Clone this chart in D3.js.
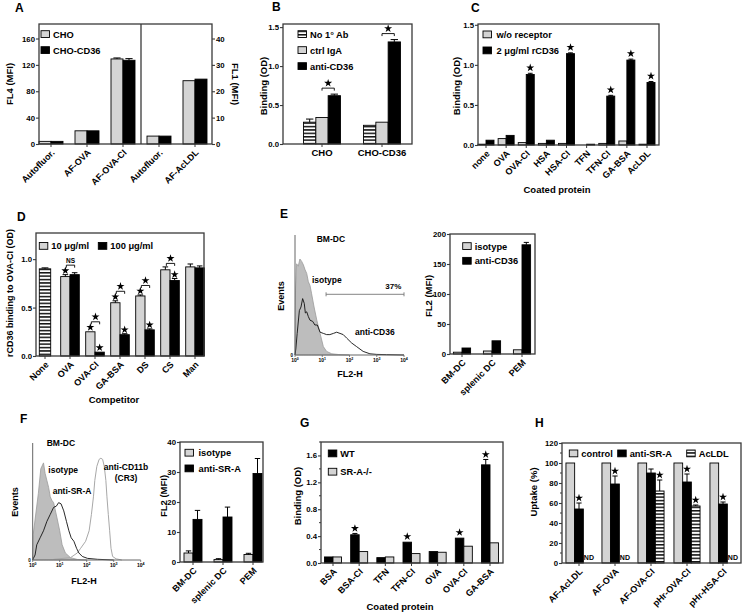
<!DOCTYPE html>
<html><head><meta charset="utf-8">
<script src="https://cdn.jsdelivr.net/npm/d3@7"></script>
<style>body{margin:0;background:#fff}svg{display:block}</style>
</head><body>
<script>
// ---------------- DATA ----------------
// Panel A
const aCats = ["Autofluor.", "AF-OVA", "AF-OVA-CI", "Autofluor.", "AF-AcLDL"];
const aAxis = ["FL4", "FL4", "FL4", "FL1", "FL1"];
const aCHO = [4, 20, 129, 3, 24];
const aCHOErr = [0.3, 0.5, 1.5, 0.2, 0.2];
const aCD36 = [4, 20, 127, 3, 24.6];
const aCD36Err = [0.3, 0.5, 2.5, 0.2, 0.2];
const aLeftTicks = [0, 40, 80, 120, 160];
const aRightTicks = [0, 10, 20, 30, 40];
// Panel B
const bCats = ["CHO", "CHO-CD36"];
const bNoAb = [0.28, 0.24], bNoAbErr = [0.04, 0.01];
const bIgA = [0.34, 0.28], bIgAErr = [0.01, 0.005];
const bCD36 = [0.62, 1.31], bCD36Err = [0.02, 0.03];
const bBracket = ["★", "★"];
const bTicks = [0, 0.5, 1.0, 1.5];
// Panel C
const cCats = ["none", "OVA", "OVA-CI", "HSA", "HSA-CI", "TFN", "TFN-CI", "GA-BSA", "AcLDL"];
const cNoRec = [0.01, 0.08, 0.03, 0.02, 0.02, 0.0, 0.02, 0.05, 0.01];
const cRec = [0.06, 0.12, 0.88, 0.06, 1.14, 0.01, 0.61, 1.06, 0.78];
const cRecErr = [0.004, 0.005, 0.015, 0.004, 0.01, 0.002, 0.01, 0.012, 0.012];
const cStar = [0, 0, 1, 0, 1, 0, 1, 1, 1];
const cTicks = [0, 0.5, 1.0, 1.5];
// Panel D
const dCats = ["None", "OVA", "OVA-CI", "GA-BSA", "DS", "CS", "Man"];
const dNone = [0.90, null, null, null, null, null, null];
const dNoneErr = [0.01, 0, 0, 0, 0, 0, 0];
const d10 = [null, 0.82, 0.25, 0.55, 0.62, 0.89, 0.92];
const d10Err = [0, 0.02, 0.005, 0.02, 0.01, 0.03, 0.03];
const d100 = [null, 0.84, 0.04, 0.22, 0.27, 0.78, 0.91];
const d100Err = [0, 0.02, 0.005, 0.01, 0.01, 0.02, 0.02];
const dStar10 = [0, 1, 1, 1, 1, 0, 0];
const dStar100 = [0, 0, 1, 1, 1, 1, 0];
const dBracket = ["", "NS", "★", "★", "★", "★", ""];
const dTicks = [0, 0.5, 1.0];
// Panel E histogram (log10 FL2-H decade, events % of scale)
const eIsoLog = [0, 0.02, 0.06, 0.12, 0.18, 0.245, 0.31, 0.37, 0.43, 0.49, 0.55, 0.61, 0.70, 0.80, 0.92, 1.04, 1.16, 1.35, 1.6, 2.0];
const eIsoCount = [0, 55, 76, 74, 80, 78, 75, 71, 68, 61, 58, 51, 40, 29, 18, 7, 3, 1, 0.4, 0];
const eCD36Log = [0, 0.03, 0.08, 0.16, 0.22, 0.28, 0.34, 0.38, 0.43, 0.49, 0.55, 0.65, 0.73, 0.82, 0.92, 1.04, 1.16, 1.28, 1.41, 1.53, 1.65, 1.77, 1.9, 2.08, 2.26, 2.5, 2.75, 3.0, 3.36, 4.0];
const eCD36Count = [0, 5, 18, 37, 40, 47, 43, 35, 36, 32, 29, 28, 25, 25, 19, 18, 17, 17, 18, 19, 18, 17, 14, 10, 7, 3, 1, 0.5, 0.3, 0];
const eGate = [1.14, 4.0];
const eGateLabel = "37%";
// Panel E bars
const eCats = ["BM-DC", "splenic DC", "PEM"];
const eIso = [3, 5, 7], eIsoErr = [0.5, 0.5, 1];
const eAnti = [10, 22, 182], eAntiErr = [1, 1, 4];
const eTicks = [0, 50, 100, 150, 200];
// Panel F histogram
const fIsoLog = [0, 0.02, 0.09, 0.21, 0.30, 0.40, 0.46, 0.525, 0.59, 0.65, 0.71, 0.775, 0.9, 1.0, 1.09, 1.21, 1.4, 1.65, 2.0];
const fIsoCount = [0, 22, 35, 57, 78, 83, 74, 68, 62, 54, 51, 49, 36, 25, 13, 6, 2, 0.5, 0];
const fSRALog = [0, 0.025, 0.0875, 0.15, 0.275, 0.4, 0.525, 0.65, 0.775, 0.875, 0.96, 1.05, 1.15, 1.25, 1.34, 1.425, 1.525, 1.625, 1.71, 1.84, 2.03, 2.4, 3.0];
const fSRACount = [0, 1.4, 4.3, 13, 19, 25, 33, 39, 45, 46, 49, 48, 42, 33, 25, 19, 16, 10, 6, 3, 1.4, 0.6, 0];
const fCD11bLog = [0.775, 1.4, 1.65, 1.775, 1.96, 2.09, 2.175, 2.25, 2.3, 2.375, 2.46, 2.525, 2.59, 2.65, 2.71, 2.75, 2.8, 2.85, 2.9, 2.96, 3.09, 3.3];
const fCD11bCount = [0.6, 2, 6, 10, 16, 25, 39, 54, 68, 80, 86, 87, 86, 80, 68, 54, 39, 25, 10, 3, 1, 0];
// Panel F bars
const fCats = ["BM-DC", "splenic DC", "PEM"];
const fIso = [3.0, 0.8, 2.5], fIsoErr = [0.7, 0.3, 0.4];
const fSRA = [14.2, 15.0, 29.5], fSRAErr = [3.0, 3.3, 5.0];
const fTicks = [0, 10, 20, 30, 40];
// Panel G
const gCats = ["BSA", "BSA-CI", "TFN", "TFN-CI", "OVA", "OVA-CI", "GA-BSA"];
const gWT = [0.09, 0.42, 0.08, 0.31, 0.17, 0.37, 1.46];
const gWTErr = [0.004, 0.02, 0.004, 0.01, 0.005, 0.01, 0.08];
const gKO = [0.09, 0.17, 0.09, 0.14, 0.16, 0.25, 0.30];
const gKOErr = [0.003, 0.005, 0.003, 0.004, 0.005, 0.006, 0.006];
const gStar = [0, 1, 0, 1, 0, 1, 1];
const gTicks = [0, 0.4, 0.8, 1.2, 1.6];
// Panel H
const hCats = ["AF-AcLDL", "AF-OVA", "AF-OVA-CI", "pHr-OVA-CI", "pHr-HSA-CI"];
const hCtrl = [100, 100, 100, 100, 100];
const hSRA = [54, 79, 90, 81, 59], hSRAErr = [6, 8, 4, 8, 2];
const hAc = [null, null, 72, 57, null], hAcErr = [0, 0, 11, 1, 0];
const hStarSRA = [1, 1, 0, 1, 1];
const hStarAc = [0, 0, 1, 1, 0];
const hTicks = [0, 20, 40, 60, 80, 100, 120];

// ---------------- DRAWING ----------------
const FONT = '"Liberation Sans", Arial, Helvetica, sans-serif';
const TICKF = 7.8, LEGF = 9.3, TITLEF = 9.5, CATF = 9;
const svg = d3.select("body").append("svg").attr("width", 742).attr("height", 615)
  .attr("font-family", FONT).attr("font-weight", "bold");
const defs = svg.append("defs");
const pat = defs.append("pattern").attr("id", "hstripe").attr("patternUnits", "userSpaceOnUse")
  .attr("width", 8).attr("height", 3.4);
pat.append("rect").attr("width", 8).attr("height", 3.4).attr("fill", "#fff");
pat.append("rect").attr("width", 8).attr("height", 1.5).attr("fill", "#111");
const FILLS = {gray: "#d4d4d4", black: "#000", stripe: "url(#hstripe)"};
const AX = "#3a3a3a";

function label(x, y, s, size, anchor = "start", rot = 0) {
  const t = svg.append("text").attr("x", x).attr("y", y).attr("font-size", size)
    .attr("text-anchor", anchor).text(s);
  if (rot) t.attr("transform", `rotate(${rot},${x},${y})`);
  return t;
}
function frame(b) {
  svg.append("rect").attr("x", b.x0).attr("y", b.y0).attr("width", b.x1 - b.x0)
    .attr("height", b.y1 - b.y0).attr("fill", "none").attr("stroke", AX).attr("stroke-width", 1.3);
}
function yAxis(x, y, ticks, fmt, side = "left", minor = null) {
  const ax = side === "left" ? d3.axisLeft(y) : d3.axisRight(y);
  const g = svg.append("g").attr("transform", `translate(${x},0)`)
    .call(ax.tickValues(ticks).tickFormat(fmt).tickSize(3).tickPadding(1));
  g.attr("font-family", FONT).attr("font-size", TICKF).attr("font-weight", "bold");
  g.select(".domain").remove();
  g.selectAll("line").attr("stroke", AX).attr("stroke-width", 1.1);
  if (minor) {
    const s = side === "left" ? -1 : 1;
    svg.append("g").selectAll("line").data(minor).join("line")
      .attr("x1", x).attr("x2", x + s * 2).attr("y1", d => y(d)).attr("y2", d => y(d))
      .attr("stroke", AX).attr("stroke-width", 1);
  }
}
function xCats(xs, labels, y1, size = CATF) {
  xs.forEach((cx, i) => {
    svg.append("line").attr("x1", cx).attr("x2", cx).attr("y1", y1).attr("y2", y1 + 3)
      .attr("stroke", AX).attr("stroke-width", 1);
    svg.append("text").attr("transform", `translate(${cx + 2},${y1 + 7}) rotate(-45)`)
      .attr("text-anchor", "end").attr("dy", "0.35em").attr("font-size", size).text(labels[i]);
  });
}
function drawBars(series, xc, yOf, bw, n) {
  const tops = series.map(() => []);
  series.forEach((s, si) => {
    s.values.forEach((v, i) => {
      if (v == null) { tops[si][i] = null; return; }
      const y = yOf(i);
      const left = xc(i) + (si - n / 2) * bw;
      const e = (s.errors && s.errors[i]) || 0;
      svg.append("rect").attr("x", left).attr("y", y(v)).attr("width", bw)
        .attr("height", Math.max(0, y(0) - y(v))).attr("fill", FILLS[s.fill])
        .attr("stroke", "#000").attr("stroke-width", 0.9);
      const cx = left + bw / 2;
      if (e > 0 && (y(v) - y(v + e)) > 0.8) {
        svg.append("line").attr("x1", cx).attr("x2", cx).attr("y1", y(v)).attr("y2", y(v + e))
          .attr("stroke", "#000").attr("stroke-width", 1);
        svg.append("line").attr("x1", cx - bw * 0.3).attr("x2", cx + bw * 0.3)
          .attr("y1", y(v + e)).attr("y2", y(v + e)).attr("stroke", "#000").attr("stroke-width", 1);
      }
      tops[si][i] = {x: cx, y: y(v + e)};
    });
  });
  return tops;
}
function legend(items, boxW = 8.5, boxH = 6.8, size = LEGF) {
  items.forEach(it => {
    svg.append("rect").attr("x", it.x).attr("y", it.y).attr("width", boxW).attr("height", boxH)
      .attr("fill", FILLS[it.fill]).attr("stroke", "#000").attr("stroke-width", 0.9);
    label(it.x + boxW + (it.gap || 3.5), it.y + boxH, it.text, size);
  });
}
const starPath = d3.symbol(d3.symbolStar, 20)();
function star(x, y) {
  svg.append("path").attr("d", starPath).attr("transform", `translate(${x},${y})`).attr("fill", "#000");
}
function bracket(xa, xb, y, lab) {
  svg.append("path").attr("d", `M${xa},${y + 2.5}V${y}H${xb}V${y + 2.5}`)
    .attr("fill", "none").attr("stroke", "#000").attr("stroke-width", 0.9);
  if (lab === "★") star((xa + xb) / 2, y - 5);
  else if (lab) label((xa + xb) / 2, y - 2, lab, 6.5, "middle");
}
function histo(b, series) {
  const x = d3.scaleLinear().domain([0, 4]).range([b.x0, b.x1]);
  const y = d3.scaleLinear().domain([0, 100]).range([b.y1, b.y0]);
  series.forEach(s => {
    const pts = s.log.map((l, i) => [x(l), y(s.count[i])]);
    if (s.fill) {
      svg.append("path").attr("d", d3.area().x(d => d[0]).y0(b.y1).y1(d => d[1])(pts))
        .attr("fill", s.fill).attr("stroke", s.stroke).attr("stroke-width", 0.8);
    } else {
      svg.append("path").attr("d", d3.line()(pts)).attr("fill", "none")
        .attr("stroke", s.stroke).attr("stroke-width", s.w || 1);
    }
  });
  svg.append("path").attr("d", `M${b.x0},${b.y0}V${b.y1}H${b.x1}`).attr("fill", "none")
    .attr("stroke", "#666").attr("stroke-width", 1);
  d3.range(5).forEach(k => {
    svg.append("line").attr("x1", x(k)).attr("x2", x(k)).attr("y1", b.y1).attr("y2", b.y1 + 2)
      .attr("stroke", "#666").attr("stroke-width", 0.8);
    const t = svg.append("text").attr("x", x(k)).attr("y", b.y1 + 6.5).attr("font-size", 5)
      .attr("text-anchor", "middle");
    t.append("tspan").text("10");
    t.append("tspan").attr("font-size", 3.6).attr("dy", -1.8).text(k);
  });
  label(b.x0 - 2, b.y1 + 1.5, "0", 4.5, "end");
  return {x, y};
}
function letter(x, y, s) { label(x, y, s, 12); }

// ---------- Panel A ----------
{
  const b = {x0: 39, x1: 212, y0: 24, y1: 144};
  const x = d3.scalePoint().domain(d3.range(aCats.length)).range([51, 195]);
  const yL = d3.scaleLinear().domain([0, 182]).range([b.y1, b.y0]);
  const yR = d3.scaleLinear().domain([0, 45.5]).range([b.y1, b.y0]);
  const yOf = i => aAxis[i] === "FL4" ? yL : yR;
  drawBars([{values: aCHO, errors: aCHOErr, fill: "gray"}, {values: aCD36, errors: aCD36Err, fill: "black"}],
    x, yOf, 12, 2);
  const div = (x(2) + x(3)) / 2;
  svg.append("line").attr("x1", div).attr("x2", div).attr("y1", b.y0).attr("y2", b.y1)
    .attr("stroke", AX).attr("stroke-width", 1.3);
  frame(b);
  yAxis(b.x0, yL, aLeftTicks, d3.format("d"));
  yAxis(b.x1, yR, aRightTicks, d3.format("d"), "right");
  xCats(aCats.map((c, i) => x(i)), aCats, b.y1);
  legend([{x: 41, y: 30.7, fill: "gray", text: "CHO"}, {x: 41, y: 46.7, fill: "black", text: "CHO-CD36"}]);
  label(13, 84, "FL4 (MFI)", TITLEF, "middle", -90);
  label(231.5, 84, "FL1 (MFI)", TITLEF, "middle", 90);
  letter(15, 12, "A");
}
// ---------- Panel B ----------
{
  const b = {x0: 283, x1: 412, y0: 24, y1: 144};
  const x = d3.scalePoint().domain(d3.range(bCats.length)).range([322, 382]);
  const y = d3.scaleLinear().domain([0, 1.54]).range([b.y1, b.y0]);
  const tops = drawBars([
    {values: bNoAb, errors: bNoAbErr, fill: "stripe"},
    {values: bIgA, errors: bIgAErr, fill: "gray"},
    {values: bCD36, errors: bCD36Err, fill: "black"}], x, () => y, 12.3, 3);
  bCats.forEach((c, i) => {
    const by = tops[2][i].y - 6;
    bracket(tops[1][i].x, tops[2][i].x, by, bBracket[i]);
  });
  frame(b);
  yAxis(b.x0, y, bTicks, d3.format(".1f"));
  bCats.forEach((c, i) => {
    svg.append("line").attr("x1", x(i)).attr("x2", x(i)).attr("y1", b.y1).attr("y2", b.y1 + 3).attr("stroke", AX);
    label(x(i), b.y1 + 12, c, 9.5, "middle");
  });
  legend([{x: 298, y: 30.7, fill: "stripe", text: "No 1° Ab"},
          {x: 298, y: 46.7, fill: "gray", text: "ctrl IgA"},
          {x: 298, y: 62.7, fill: "black", text: "anti-CD36"}]);
  label(267, 86, "Binding (OD)", TITLEF, "middle", -90);
  letter(272, 11, "B");
}
// ---------- Panel C ----------
{
  const b = {x0: 478, x1: 659, y0: 24, y1: 145};
  const x = d3.scalePoint().domain(d3.range(cCats.length)).range([486, 647]);
  const y = d3.scaleLinear().domain([0, 1.51]).range([b.y1, b.y0]);
  const tops = drawBars([{values: cNoRec, fill: "gray"}, {values: cRec, errors: cRecErr, fill: "black"}],
    x, () => y, 8, 2);
  cStar.forEach((s, i) => { if (s) star(tops[1][i].x, tops[1][i].y - 5.5); });
  frame(b);
  yAxis(b.x0, y, cTicks, d3.format(".1f"));
  xCats(cCats.map((c, i) => x(i)), cCats, b.y1);
  legend([{x: 483, y: 31, fill: "gray", text: "w/o receptor", gap: 5},
          {x: 483, y: 47, fill: "black", text: "2 μg/ml rCD36", gap: 5}]);
  label(460, 86, "Binding (OD)", TITLEF, "middle", -90);
  label(557, 193, "Coated protein", TITLEF, "middle");
  letter(471, 12, "C");
}
// ---------- Panel D ----------
{
  const b = {x0: 36, x1: 204, y0: 233, y1: 356};
  const x = d3.scalePoint().domain(d3.range(dCats.length)).range([45, 195]);
  const y = d3.scaleLinear().domain([0, 1.27]).range([b.y1, b.y0]);
  drawBars([{values: dNone, errors: dNoneErr, fill: "stripe"}], x, () => y, 11.4, 1);
  const tops = drawBars([{values: d10, errors: d10Err, fill: "gray"}, {values: d100, errors: d100Err, fill: "black"}],
    x, () => y, 9.3, 2);
  dCats.forEach((c, i) => {
    if (dStar10[i]) star(tops[0][i].x, tops[0][i].y - 4);
    if (dStar100[i]) star(tops[1][i].x, tops[1][i].y - 4);
    if (dBracket[i]) {
      const by = tops[0][i].y - (dStar10[i] ? 9.5 : 3.5);
      bracket(tops[0][i].x + 1, tops[1][i].x, by, dBracket[i]);
    }
  });
  frame(b);
  yAxis(b.x0, y, dTicks, d3.format(".1f"));
  xCats(dCats.map((c, i) => x(i)), dCats, b.y1);
  legend([{x: 39.3, y: 242.5, fill: "gray", text: "10 μg/ml"},
          {x: 98.3, y: 242.5, fill: "black", text: "100 μg/ml"}]);
  label(13, 293, "rCD36 binding to OVA-CI (OD)", 9, "middle", -90);
  label(114, 403, "Competitor", TITLEF, "middle");
  letter(17, 221, "D");
}
// ---------- Panel E ----------
{
  const b = {x0: 295, x1: 404, y0: 235, y1: 355};
  const h = histo(b, [
    {log: eIsoLog, count: eIsoCount, fill: "#bdbdbd", stroke: "#9a9a9a"},
    {log: eCD36Log, count: eCD36Count, stroke: "#111", w: 0.9}]);
  const gy = 294.3;
  svg.append("path").attr("d", `M${h.x(eGate[0])},${gy - 2}V${gy + 2}M${h.x(eGate[0])},${gy}H${h.x(eGate[1])}M${h.x(eGate[1])},${gy - 2}V${gy + 2}`)
    .attr("stroke", "#777").attr("stroke-width", 0.9).attr("fill", "none");
  label(h.x(3.9), 289, eGateLabel, 8, "end");
  label(316.7, 241.5, "BM-DC", 8.5);
  label(312, 283, "isotype", 8.5);
  label(355, 334.5, "anti-CD36", 8.5);
  label(350, 376.5, "FL2-H", 9, "middle");
  label(283.5, 296, "Events", 9, "middle", -90);
  letter(280, 218, "E");

  const bb = {x0: 450, x1: 535, y0: 234, y1: 354};
  const x = d3.scalePoint().domain(d3.range(eCats.length)).range([462, 522]);
  const y = d3.scaleLinear().domain([0, 200]).range([bb.y1, bb.y0]);
  drawBars([{values: eIso, errors: eIsoErr, fill: "gray"}, {values: eAnti, errors: eAntiErr, fill: "black"}],
    x, () => y, 8.6, 2);
  frame(bb);
  yAxis(bb.x0, y, eTicks, d3.format("d"));
  xCats(eCats.map((c, i) => x(i)), eCats, bb.y1);
  legend([{x: 462.7, y: 242.7, fill: "gray", text: "isotype"},
          {x: 462.7, y: 257.4, fill: "black", text: "anti-CD36"}]);
  label(432, 296, "FL2 (MFI)", TITLEF, "middle", -90);
}
// ---------- Panel F ----------
{
  const b = {x0: 32.7, x1: 140.7, y0: 443, y1: 560};
  histo(b, [
    {log: fIsoLog, count: fIsoCount, fill: "#bdbdbd", stroke: "#9a9a9a"},
    {log: fCD11bLog, count: fCD11bCount, stroke: "#a8a8a8", w: 1},
    {log: fSRALog, count: fSRACount, stroke: "#111", w: 0.9}]);
  label(46.7, 445.5, "BM-DC", 8.5);
  label(48.3, 473, "isotype", 8.5);
  label(52.7, 493.5, "anti-SR-A", 8.5);
  label(126, 470, "anti-CD11b", 8.5, "middle");
  label(126, 480.5, "(CR3)", 8.5, "middle");
  label(84, 584, "FL2-H", 9, "middle");
  label(18.3, 502, "Events", 9, "middle", -90);
  letter(20, 423, "F");

  const bb = {x0: 180, x1: 263, y0: 442, y1: 562};
  const x = d3.scalePoint().domain(d3.range(fCats.length)).range([193, 253]);
  const y = d3.scaleLinear().domain([0, 40]).range([bb.y1, bb.y0]);
  drawBars([{values: fIso, errors: fIsoErr, fill: "gray"}, {values: fSRA, errors: fSRAErr, fill: "black"}],
    x, () => y, 9, 2);
  frame(bb);
  yAxis(bb.x0, y, fTicks, d3.format("d"));
  xCats(fCats.map((c, i) => x(i)), fCats, bb.y1);
  legend([{x: 185, y: 449.3, fill: "gray", text: "isotype", gap: 5},
          {x: 185, y: 465, fill: "black", text: "anti-SR-A", gap: 5}]);
  label(167, 496, "FL2 (MFI)", TITLEF, "middle", -90);
}
// ---------- Panel G ----------
{
  const b = {x0: 321, x1: 503, y0: 442, y1: 563};
  const x = d3.scalePoint().domain(d3.range(gCats.length)).range([333, 490]);
  const y = d3.scaleLinear().domain([0, 1.8]).range([b.y1, b.y0]);
  const tops = drawBars([{values: gWT, errors: gWTErr, fill: "black"}, {values: gKO, errors: gKOErr, fill: "gray"}],
    x, () => y, 8.5, 2);
  gStar.forEach((s, i) => { if (s) star(tops[0][i].x, tops[0][i].y - 5); });
  frame(b);
  yAxis(b.x0, y, gTicks, d3.format(".1f"), "left", [0.2, 0.6, 1.0, 1.4, 1.8]);
  xCats(gCats.map((c, i) => x(i)), gCats, b.y1);
  legend([{x: 328.3, y: 450, fill: "black", text: "WT"},
          {x: 328.3, y: 468.3, fill: "gray", text: "SR-A-/-"}]);
  label(301, 496, "Binding (OD)", TITLEF, "middle", -90);
  label(400, 610, "Coated protein", TITLEF, "middle");
  letter(300, 427, "G");
}
// ---------- Panel H ----------
{
  const b = {x0: 562, x1: 741, y0: 443, y1: 563};
  const x = d3.scalePoint().domain(d3.range(hCats.length)).range([579, 723]);
  const y = d3.scaleLinear().domain([0, 120]).range([b.y1, b.y0]);
  const bw = 8.7;
  const tops = drawBars([{values: hCtrl, fill: "gray"}, {values: hSRA, errors: hSRAErr, fill: "black"},
    {values: hAc, errors: hAcErr, fill: "stripe"}], x, () => y, bw, 3);
  hCats.forEach((c, i) => {
    if (hStarSRA[i]) star(tops[1][i].x, tops[1][i].y - 5);
    if (hStarAc[i]) star(tops[2][i].x, tops[2][i].y - 5);
    if (hAc[i] == null) label(x(i) + bw / 2 + 0.5, b.y1 - 3.5, "ND", 7);
  });
  frame(b);
  yAxis(b.x0, y, hTicks, d3.format("d"), "left", [10, 30, 50, 70, 90, 110]);
  xCats(hCats.map((c, i) => x(i)), hCats, b.y1);
  legend([{x: 569.3, y: 450, fill: "gray", text: "control"},
          {x: 617.7, y: 450, fill: "black", text: "anti-SR-A"},
          {x: 686.7, y: 450, fill: "stripe", text: "AcLDL"}]);
  label(536.5, 492, "Uptake (%)", TITLEF, "middle", -90);
  letter(535, 427, "H");
}
</script>
</body></html>
